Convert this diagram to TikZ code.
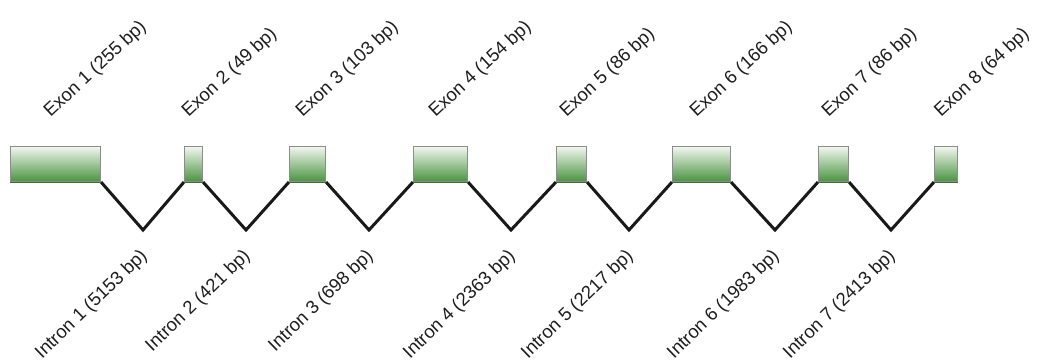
\documentclass[tikz,border=0pt]{standalone}
\usepackage{fontspec}
\setmainfont{Liberation Sans}
\usetikzlibrary{backgrounds}
\definecolor{exgreen}{HTML}{4A9440}
\definecolor{exlight}{HTML}{F2F6F0}
\definecolor{exedge}{HTML}{8C8C8C}
\definecolor{exbottom}{HTML}{3A6E32}
\definecolor{txt}{HTML}{1E1E1E}
\tikzset{
  exon/.style={draw=exedge, line width=1pt, top color=exlight, bottom color=exgreen,
    minimum height=35pt, inner sep=0pt, anchor=north west},
  intron/.style={draw=black!90, line width=3pt, line join=miter},
  exlab/.style={anchor=base west, rotate=43, inner sep=0pt, text=txt,
    font=\fontsize{18.5}{22}\selectfont},
  inlab/.style={anchor=base east, rotate=44, inner sep=0pt, text=txt,
    font=\fontsize{18.5}{22}\selectfont}
}
\begin{document}
\begin{tikzpicture}[x=1pt,y=-1pt]
\useasboundingbox (0,0) rectangle (1042,361);
% exons
\node[exon, minimum width=90pt] (e1) at (10,146) {};
\node[exon, minimum width=18pt] (e2) at (184,146) {};
\node[exon, minimum width=36pt] (e3) at (289,146) {};
\node[exon, minimum width=54pt] (e4) at (413,146) {};
\node[exon, minimum width=30pt] (e5) at (556,146) {};
\node[exon, minimum width=58pt] (e6) at (672,146) {};
\node[exon, minimum width=30pt] (e7) at (818,146) {};
\node[exon, minimum width=23pt] (e8) at (934,146) {};
\foreach \i in {1,...,8}{
  \draw[exbottom, line width=1pt] (e\i.south west) -- (e\i.south east);
}
% valleys
\coordinate (v1) at (143,230);
\coordinate (v2) at (246,230);
\coordinate (v3) at (369,230);
\coordinate (v4) at (511,230);
\coordinate (v5) at (629,230);
\coordinate (v6) at (775,230);
\coordinate (v7) at (891,230);
\begin{scope}[on background layer]
\draw[intron] (e1.south east) -- (v1) -- (e2.south west);
\draw[intron] (e2.south east) -- (v2) -- (e3.south west);
\draw[intron] (e3.south east) -- (v3) -- (e4.south west);
\draw[intron] (e4.south east) -- (v4) -- (e5.south west);
\draw[intron] (e5.south east) -- (v5) -- (e6.south west);
\draw[intron] (e6.south east) -- (v6) -- (e7.south west);
\draw[intron] (e7.south east) -- (v7) -- (e8.south west);
\end{scope}
% exon labels
\node[exlab] (le1) at ([xshift=-5pt,yshift=28pt]e1.north) {Exon 1 (255 bp)};
\node[exlab] (le2) at ([xshift=-5pt,yshift=28pt]e2.north) {Exon 2 (49 bp)};
\node[exlab] (le3) at ([xshift=-5pt,yshift=28pt]e3.north) {Exon 3 (103 bp)};
\node[exlab] (le4) at ([xshift=-5pt,yshift=28pt]e4.north) {Exon 4 (154 bp)};
\node[exlab] (le5) at ([xshift=-5pt,yshift=28pt]e5.north) {Exon 5 (86 bp)};
\node[exlab] (le6) at ([xshift=-5pt,yshift=28pt]e6.north) {Exon 6 (166 bp)};
\node[exlab] (le7) at ([xshift=-5pt,yshift=28pt]e7.north) {Exon 7 (86 bp)};
\node[exlab] (le8) at ([xshift=-5pt,yshift=28pt]e8.north) {Exon 8 (64 bp)};
% intron labels
\node[inlab] (li1) at ([xshift=5pt,yshift=-27pt]v1) {Intron 1 (5153 bp)};
\node[inlab] (li2) at ([xshift=5pt,yshift=-27pt]v2) {Intron 2 (421 bp)};
\node[inlab] (li3) at ([xshift=5pt,yshift=-27pt]v3) {Intron 3 (698 bp)};
\node[inlab] (li4) at ([xshift=5pt,yshift=-27pt]v4) {Intron 4 (2363 bp)};
\node[inlab] (li5) at ([xshift=5pt,yshift=-27pt]v5) {Intron 5 (2217 bp)};
\node[inlab] (li6) at ([xshift=5pt,yshift=-27pt]v6) {Intron 6 (1983 bp)};
\node[inlab] (li7) at ([xshift=5pt,yshift=-27pt]v7) {Intron 7 (2413 bp)};
\end{tikzpicture}
\end{document}
